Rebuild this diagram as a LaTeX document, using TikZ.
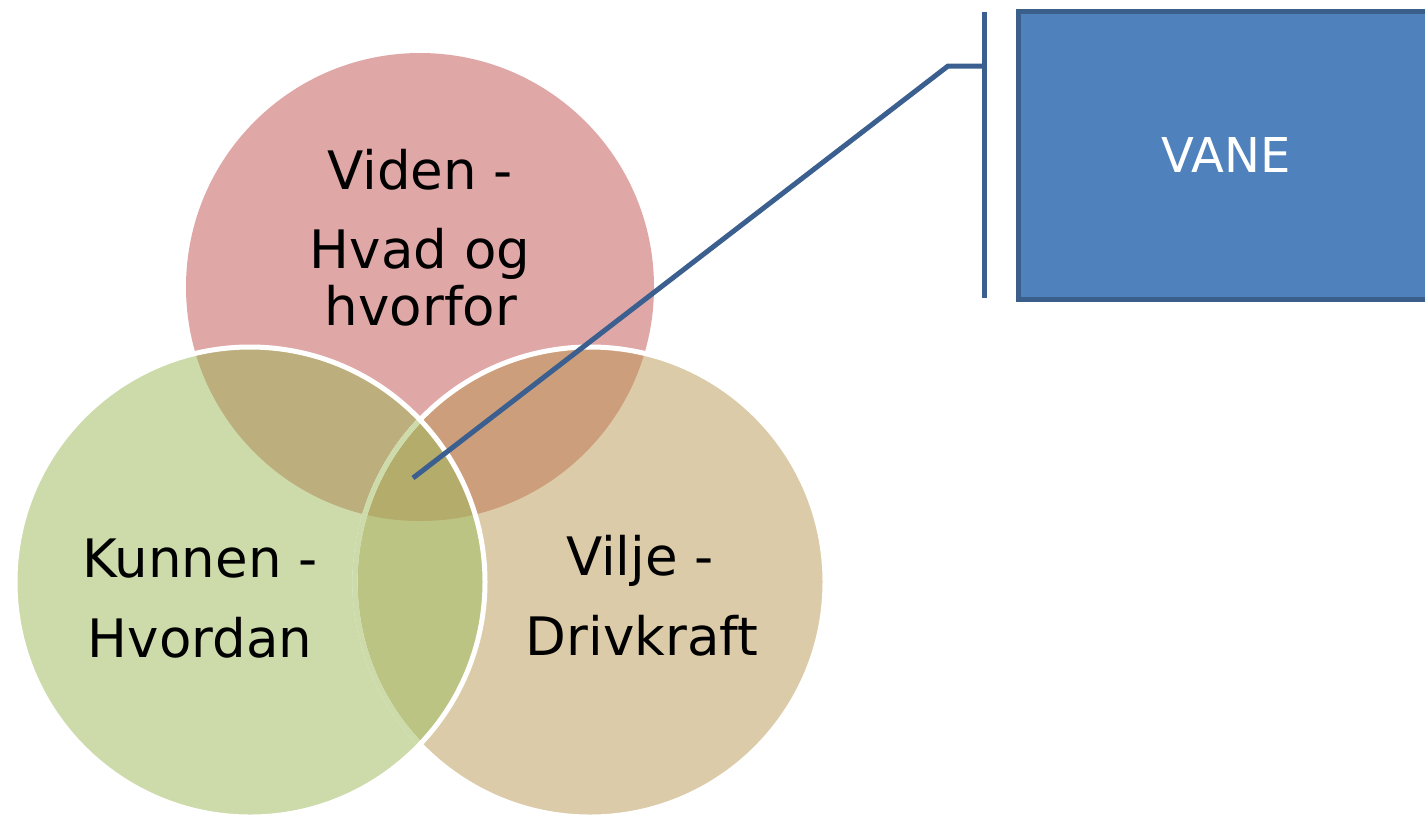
\documentclass[tikz,border=0pt]{standalone}
\usepackage{fontspec}
\setmainfont{DejaVu Sans}
\definecolor{cred}{HTML}{E0A7A7}
\definecolor{cgreen}{HTML}{CDDBAB}
\definecolor{cbeige}{HTML}{DCCBA8}
\definecolor{crg}{HTML}{BCAF7D}
\definecolor{crb}{HTML}{CD9E7B}
\definecolor{cgb}{HTML}{BBC483}
\definecolor{crgb}{HTML}{B4AC6A}
\definecolor{cgline}{HTML}{CDDBAB}
\definecolor{cconn}{HTML}{3B5F8F}
\definecolor{cborder}{HTML}{3A5F8B}
\definecolor{cblue}{HTML}{4F81BD}
\begin{document}
\begin{tikzpicture}[x=1pt,y=-1pt,
  lbl/.style={font=\fontsize{53}{60}\selectfont, inner sep=0pt, anchor=base, text=black},
  conn/.style={draw=cconn, line width=5pt},
  whiteline/.style={draw=white, line width=5pt},
  vanebox/.style={draw=cborder, fill=cblue, line width=5pt, minimum width=416pt,
    minimum height=288pt, inner sep=0pt, text=white, font=\fontsize{48}{56}\selectfont}]
\useasboundingbox (0,0) rectangle (1425,815);
\def\Rc{(420,287) circle[radius=234pt]}
\def\Gc{(250,582) circle[radius=235pt]}
\def\Bc{(590,582) circle[radius=235pt]}
% base fills
\fill[cred] \Rc;
\fill[cbeige] \Bc;
\fill[cgreen] \Gc;
% pairwise overlaps
\begin{scope}\clip \Rc; \fill[crg] \Gc; \end{scope}
\begin{scope}\clip \Rc; \fill[crb] \Bc; \end{scope}
\begin{scope}\clip \Gc; \fill[cgb] \Bc; \end{scope}
\begin{scope}\clip \Rc; \clip \Gc; \fill[crgb] \Bc; \end{scope}
% outlines
\draw[whiteline] \Bc;
\begin{scope}\clip \Gc; \draw[draw=cgline, line width=5.2pt] \Bc; \end{scope}
\draw[whiteline] \Gc;
% texts
\node[lbl] (t1) at (420,189) {Viden -};
\node[lbl] (t2) at (420,268) {Hvad og};
\node[lbl] (t3) at (421,325) {hvorfor};
\node[lbl] (t4) at (200,577) {Kunnen -};
\node[lbl] (t5) at (200,657) {Hvordan};
\node[lbl] (t6) at (640,575) {Vilje -};
\node[lbl] (t7) at (642,655) {Drivkraft};
% box
\node[vanebox] (vane) at (1226,155) {VANE};
% connector
\coordinate (hub) at (413,478);
\coordinate (elbow) at (948,66);
\coordinate (barmid) at (984,66);
\coordinate (bartop) at (984,12);
\coordinate (barbot) at (984,298);
\draw[conn] (bartop) -- (barbot);
\draw[conn] (hub) -- (elbow) -- (barmid);
\end{tikzpicture}
\end{document}
